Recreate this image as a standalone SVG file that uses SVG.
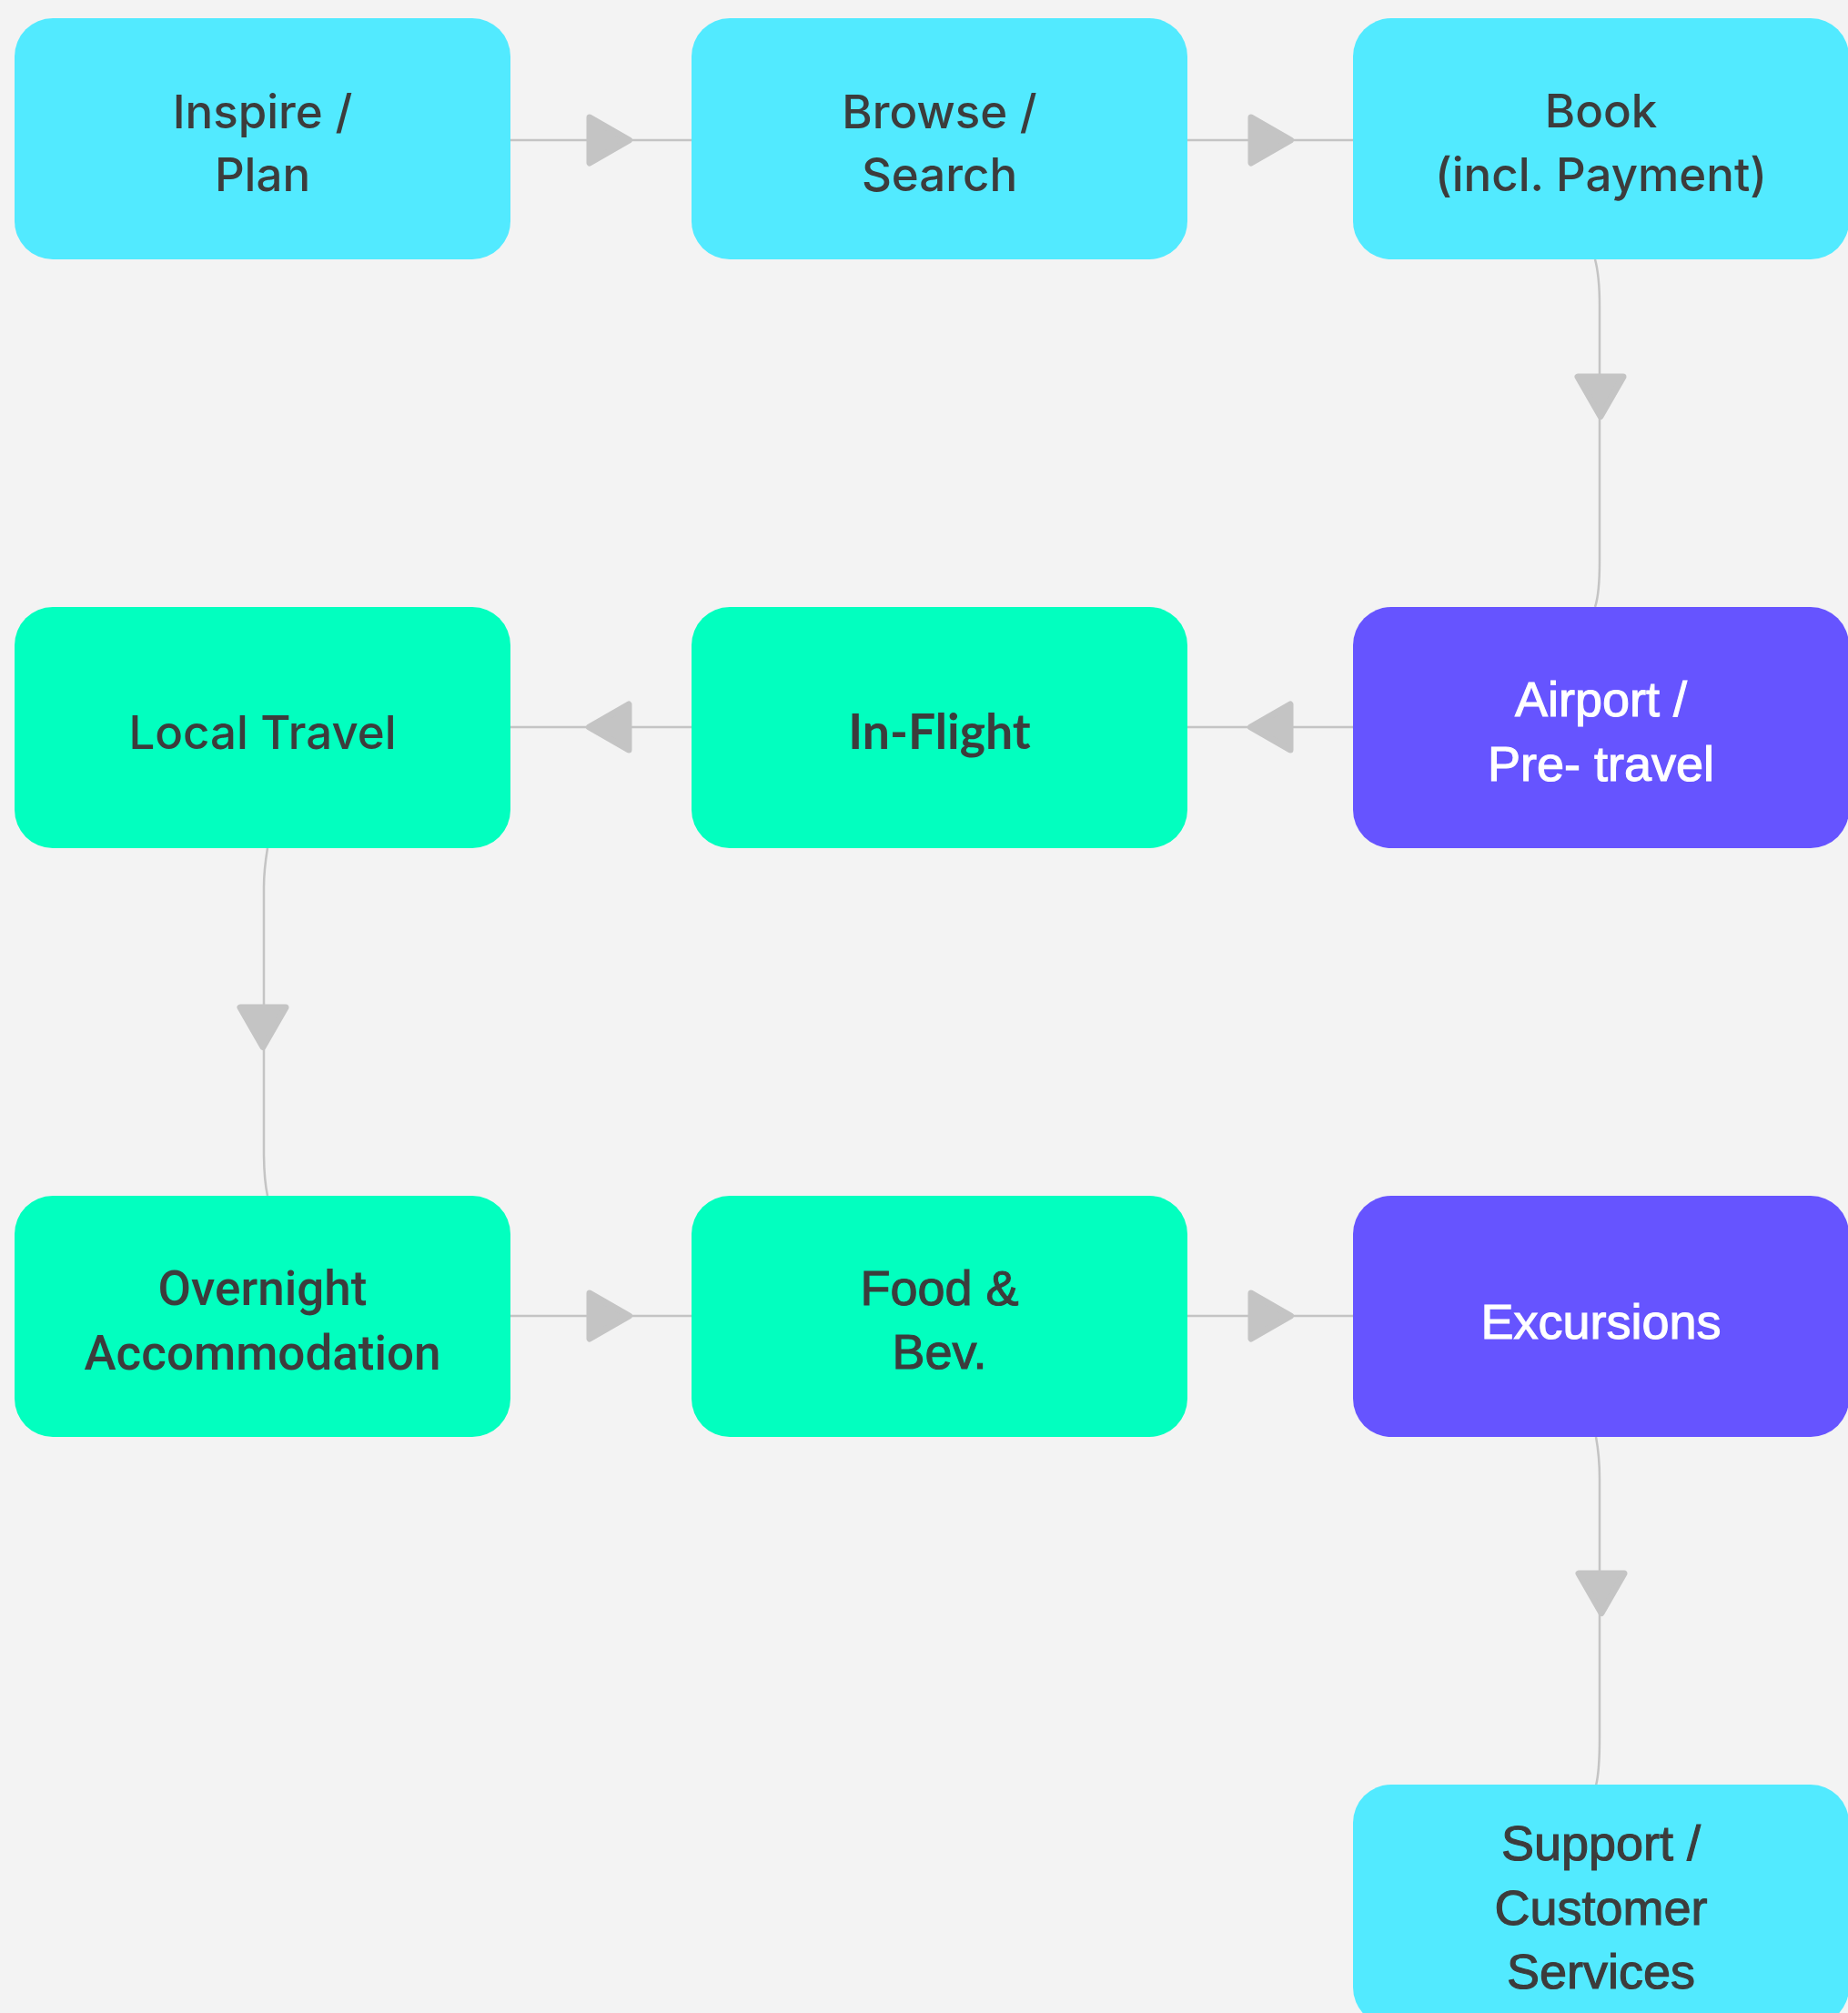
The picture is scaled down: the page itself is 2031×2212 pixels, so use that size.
<svg xmlns="http://www.w3.org/2000/svg" xmlns:xlink="http://www.w3.org/1999/xlink" width="2031" height="2212" viewBox="0 0 2031 2212">
<style>
.bg{fill:#F3F3F3}
.cyan{fill:#52EAFF}
.green{fill:#02FFBF}
.purple{fill:#6654FF}
.edge{fill:none;stroke:#C4C4C4;stroke-width:2.5}
.head{fill:#C4C4C4;stroke:#C4C4C4;stroke-width:7;stroke-linejoin:round}
text{text-anchor:middle}
.dark{fill:#3C3C3C}
.light{fill:#FFFFFF}
.fa{font-family:Inter,"Noto Sans",sans-serif;font-weight:500;font-size:51px}
.fb{font-family:"Liberation Sans",Arial,sans-serif;font-weight:400;font-size:54px;stroke-width:1.1px}
.fb.dark{stroke:#3C3C3C}
.fb.light{stroke:#FFFFFF}
.fc{font-family:Lato,sans-serif;font-weight:700;font-size:53.5px}
.fd{font-family:Roboto,sans-serif;font-weight:500;font-size:53px}
</style>
<defs>
<path id="ah" d="M-22,-25 L21.5,0 L-22,25 Z"/>
</defs>
<rect class="bg" x="0" y="0" width="2031" height="2212"/>

<g id="connectors">
<path class="edge" d="M561,154 L760,154"/>
<path class="edge" d="M1305,154 L1487,154"/>
<path class="edge" d="M1753,285 C1757,300 1758,318 1758,336 L1758,617 C1758,640 1757,655 1753,667"/>
<path class="edge" d="M1487,799 L1305,799"/>
<path class="edge" d="M760,799 L561,799"/>
<path class="edge" d="M294,932 C291,950 290,962 290,975 L290,1265 C290,1290 291,1300 294,1314"/>
<path class="edge" d="M561,1446 L760,1446"/>
<path class="edge" d="M1305,1446 L1487,1446"/>
<path class="edge" d="M1754,1579 C1757,1595 1758,1610 1758,1625 L1758,1910 C1758,1935 1757,1950 1754,1962"/>
<use xlink:href="#ah" href="#ah" class="head" transform="translate(670,154)"/>
<use xlink:href="#ah" href="#ah" class="head" transform="translate(1397,154)"/>
<use xlink:href="#ah" href="#ah" class="head" transform="translate(1759,436) rotate(90)"/>
<use xlink:href="#ah" href="#ah" class="head" transform="translate(1396,799) rotate(180)"/>
<use xlink:href="#ah" href="#ah" class="head" transform="translate(669,799) rotate(180)"/>
<use xlink:href="#ah" href="#ah" class="head" transform="translate(289,1129) rotate(90)"/>
<use xlink:href="#ah" href="#ah" class="head" transform="translate(670,1446)"/>
<use xlink:href="#ah" href="#ah" class="head" transform="translate(1397,1446)"/>
<use xlink:href="#ah" href="#ah" class="head" transform="translate(1760,1751) rotate(90)"/>
</g>

<g id="inspire">
<rect class="cyan" x="16" y="20" width="545" height="265" rx="42"/>
<text class="fa dark" x="288.5" y="141">Inspire /</text>
<text class="fa dark" x="288.5" y="210">Plan</text>
</g>
<g id="browse">
<rect class="cyan" x="760" y="20" width="545" height="265" rx="42"/>
<text class="fa dark" x="1032.5" y="141">Browse /</text>
<text class="fa dark" x="1032.5" y="210">Search</text>
</g>
<g id="book">
<rect class="cyan" x="1487" y="20" width="545" height="265" rx="42"/>
<text class="fa dark" x="1759.5" y="140">Book</text>
<text class="fa dark" x="1759.5" y="210">(incl. Payment)</text>
</g>
<g id="airport">
<rect class="purple" x="1487" y="667" width="545" height="265" rx="42"/>
<text class="fb light" x="1759.5" y="787">Airport /</text>
<text class="fb light" x="1759.5" y="858">Pre- travel</text>
</g>
<g id="inflight">
<rect class="green" x="760" y="667" width="545" height="265" rx="42"/>
<text class="fc dark" x="1032.5" y="823">In-Flight</text>
</g>
<g id="localtravel">
<rect class="green" x="16" y="667" width="545" height="265" rx="42"/>
<text class="fa dark" x="288.5" y="823">Local Travel</text>
</g>
<g id="overnight">
<rect class="green" x="16" y="1314" width="545" height="265" rx="42"/>
<text class="fd dark" x="288.5" y="1434">Overnight</text>
<text class="fd dark" x="288.5" y="1505">Accommodation</text>
</g>
<g id="foodbev">
<rect class="green" x="760" y="1314" width="545" height="265" rx="42"/>
<text class="fb dark" x="1032.5" y="1434">Food &amp;</text>
<text class="fb dark" x="1032.5" y="1504">Bev.</text>
</g>
<g id="excursions">
<rect class="purple" x="1487" y="1314" width="545" height="265" rx="42"/>
<text class="fb light" x="1759.5" y="1471">Excursions</text>
</g>
<g id="support">
<rect class="cyan" x="1487" y="1961" width="545" height="265" rx="42"/>
<text class="fb dark" x="1759.5" y="2044">Support /</text>
<text class="fb dark" x="1759.5" y="2115">Customer</text>
<text class="fb dark" x="1759.5" y="2185">Services</text>
</g>
</svg>
